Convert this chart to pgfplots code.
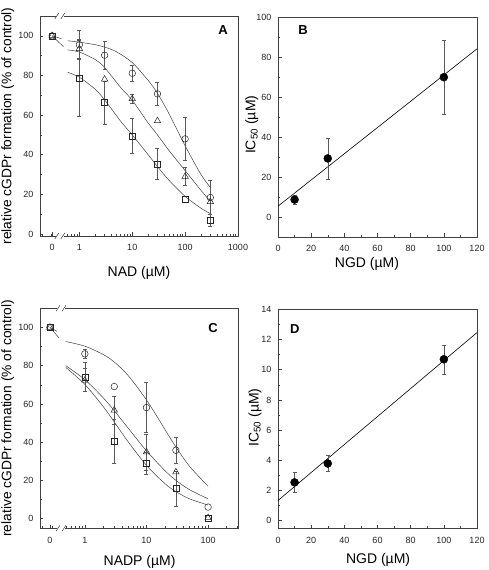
\documentclass[border=0pt]{standalone}
\usepackage{fontspec}
\setmainfont{Liberation Sans}
\usepackage{pgfplots}
\pgfplotsset{compat=1.18}

\tikzset{brk/.style={black!75, line width=0.5pt}}
\pgfplotsset{
 panel/.style={
  scale only axis,
  axis line style={black!75, line width=0.6pt},
  tick style={black!75, line width=0.5pt},
  tick pos=left,
  tick align=inside,
  major tick length=3.5pt,
  minor tick length=2pt,
  /pgf/number format/assume math mode=true,
  tick label style={font=\fontsize{9}{10}\selectfont, text=black!85},
  label style={font=\fontsize{14}{16}\selectfont},
  xticklabel style={yshift=-5pt},
  yticklabel style={xshift=-3pt},
  clip=false,
 },
 curve/.style={black!75, line width=0.5pt, smooth, mark=none},
 ebar/.style={draw=none, mark=none,
   error bars/.cd, y dir=both, y explicit,
   error bar style={draw=black!65, line width=0.5pt, solid},
   error mark options={rotate=90, mark size=2pt, line width=0.5pt, draw=black!65}},
 omarks/.style={only marks, black!85, mark options={line width=0.5pt}},
}

\begin{document}
\begin{tikzpicture}[x=1pt,y=1pt]
\useasboundingbox (0,0) rectangle (488,570);

%================ Panel A =================
\begin{axis}[panel,
  at={(40pt,334pt)}, anchor=south west, width=198pt, height=220pt,
  xmode=log, xmin=0.18, xmax=1000, ymin=-1, ymax=110,
  xtick={0.306,1,10,100,1000}, xticklabels={0,1,10,100,1000},
  minor xtick={0.2,0.3,0.4,0.5,0.6,0.7,0.8,0.9,2,3,4,5,6,7,8,9,20,30,40,50,60,70,80,90,200,300,400,500,600,700,800,900},
  ytick={0,20,40,60,80,100}, minor ytick={10,30,50,70,90},
  xlabel={NAD (µM)}, ylabel={relative cGDPr formation (\% of control)},
  xlabel style={at={(axis description cs:0.5,-0.168)}, anchor=center},
  ylabel style={at={(axis description cs:-0.162,0.5)}, anchor=center, font=\fontsize{13.8}{15}\selectfont},
]
% fitted curves
\addplot[curve] coordinates {(0.6,97.5)(1,96.8)(2,95.5)(3,94.3)(5,92)(10,86.5)(20,77.5)(30,71)(50,60.5)(100,44.5)(200,30)(300,23.5)};
\addplot[curve] coordinates {(0.6,92.9)(1,91.8)(2,88)(3,84)(6,74)(10,67.5)(20,56)(30,50)(50,42)(100,32)(200,22)(300,16.5)};
\addplot[curve] coordinates {(0.6,81.6)(1,79.1)(2,73)(3,67.7)(6,57)(10,50)(20,40)(30,34)(50,27)(100,19)(200,13)(300,10.3)};
\addplot[black!75, line width=0.5pt] coordinates {(0.306,100)(0.5,94.5)};
\addplot[black!75, line width=0.5pt] coordinates {(0.306,100)(0.46,98.5)};
% error bars
\addplot[ebar] table[x=x,y=y,y error=e] {
x y e
1 95.5 7.2
3 90.2 7
10 81.1 4.2
30 70.7 5.7
100 48 11
300 18.4 8.6
};
\addplot[ebar] table[x=x,y=y,y error=e] {
x y e
1 93.5 5
10 68.2 2.2
100 29 4.5
};
\addplot[ebar] table[x=x,y=y,y error=e] {
x y e
1 78.6 19
3 66.3 11
10 49.5 9
30 35.4 8
300 7.1 3
};
% markers
\addplot[omarks, mark=o, mark size=3.3pt] coordinates {(0.306,100)(1,95.5)(3,90.2)(10,81.1)(30,70.7)(100,48)(300,18.4)};
\addplot[omarks, mark=triangle, mark size=3.7pt] coordinates {(0.306,100)(1,93.5)(3,78.1)(10,68.2)(30,57.1)(100,29)(300,16.3)};
\addplot[omarks, mark=square, mark size=3pt] coordinates {(0.306,100)(1,78.6)(3,66.3)(10,49.5)(30,35.4)(100,17.7)(300,7.1)};
% axis breaks
\fill[white] ([xshift=-4pt,yshift=-2pt]rel axis cs:0.1,0) rectangle ([xshift=4pt,yshift=2pt]rel axis cs:0.1,0);
\fill[white] ([xshift=-4pt,yshift=-2pt]rel axis cs:0.1,1) rectangle ([xshift=4pt,yshift=2pt]rel axis cs:0.1,1);
\draw[brk] ([xshift=-5pt,yshift=-3pt]rel axis cs:0.1,0) -- ([xshift=-1pt,yshift=3pt]rel axis cs:0.1,0);
\draw[brk] ([xshift=1pt,yshift=-3pt]rel axis cs:0.1,0) -- ([xshift=5pt,yshift=3pt]rel axis cs:0.1,0);
\draw[brk] ([xshift=-5pt,yshift=-3pt]rel axis cs:0.1,1) -- ([xshift=-1pt,yshift=3pt]rel axis cs:0.1,1);
\draw[brk] ([xshift=1pt,yshift=-3pt]rel axis cs:0.1,1) -- ([xshift=5pt,yshift=3pt]rel axis cs:0.1,1);
\node[font=\bfseries\fontsize{13}{15}\selectfont] at (rel axis cs:0.924,0.936) {A};
\end{axis}

%================ Panel B =================
\begin{axis}[panel,
  at={(278pt,333pt)}, anchor=south west, width=199pt, height=220pt,
  xmin=0, xmax=120, ymin=-10, ymax=100,
  xtick={0,20,...,120}, minor x tick num=1,
  ytick={0,20,...,100}, minor y tick num=1,
  xlabel={NGD (µM)}, ylabel={IC\textsubscript{50} (µM)},
  xlabel style={at={(axis description cs:0.447,-0.12)}, anchor=center},
  ylabel style={at={(axis description cs:-0.132,0.51)}, anchor=center},
]
\addplot[black, line width=0.6pt] coordinates {(0,5.4)(120,84.1)};
\addplot[ebar] table[x=x,y=y,y error=e] {
x y e
10 8.7 2.2
30 29.3 10.3
100 69.9 18.4
};
\addplot[only marks, mark=*, mark size=4pt, black] coordinates {(10,8.7)(30,29.3)(100,69.9)};
\node[font=\bfseries\fontsize{13}{15}\selectfont] at (rel axis cs:0.126,0.94) {B};
\end{axis}

%================ Panel C =================
\begin{axis}[panel,
  at={(40pt,41.7pt)}, anchor=south west, width=198pt, height=220pt,
  xmode=log, xmin=0.187, xmax=306, ymin=-5, ymax=110,
  xtick={0.271,1,10,100}, xticklabels={0,1,10,100},
  minor xtick={0.2,0.3,0.4,0.5,0.6,0.7,0.8,0.9,2,3,4,5,6,7,8,9,20,30,40,50,60,70,80,90,200,300},
  ytick={0,20,40,60,80,100}, minor ytick={10,30,50,70,90},
  xlabel={NADP (µM)}, ylabel={relative cGDPr formation (\% of control)},
  xlabel style={at={(axis description cs:0.503,-0.152)}, anchor=center},
  ylabel style={at={(axis description cs:-0.162,0.5)}, anchor=center, font=\fontsize{13.8}{15}\selectfont},
]
\addplot[curve] coordinates {(0.49,92.6)(1,90.2)(2,85.8)(3,81.9)(5,75.0)(10,62.1)(20,46.6)(30,37.5)(50,27.4)(100,17.0)};
\addplot[curve] coordinates {(0.49,80.0)(1,72.7)(2,63.1)(3,56.5)(5,47.5)(10,35.5)(20,25.1)(30,20.1)(50,15.2)(100,10.4)};
\addplot[curve] coordinates {(0.49,79.1)(1,70.2)(2,58.5)(3,50.6)(5,40.4)(10,27.9)(20,18.3)(30,14.2)(50,10.4)(100,7.15)};
\addplot[black!75, line width=0.5pt] coordinates {(0.271,100)(0.38,94.6)};
\addplot[black!75, line width=0.5pt] coordinates {(0.271,100)(0.35,98)};
\addplot[ebar] table[x=x,y=y,y error=e] {
x y e
1 86.2 2.3
10 58.1 13
30 35.8 6.6
};
\addplot[ebar] table[x=x,y=y,y error=e] {
x y e
1 72.4 6
3 56.7 7.5
10 34.9 9.3
};
\addplot[ebar] table[x=x,y=y,y error=e] {
x y e
1 74.2 7.5
3 40.5 11.7
10 29 6
30 15.7 9
};
\addplot[omarks, mark=o, mark size=3.3pt] coordinates {(0.271,100)(1,86.2)(3,69.1)(10,58.1)(30,35.8)(100,6.1)};
\addplot[omarks, mark=triangle, mark size=3.7pt] coordinates {(0.271,100)(1,72.4)(3,56.7)(10,34.9)(30,24.4)(100,0.5)};
\addplot[omarks, mark=square, mark size=3pt] coordinates {(0.271,100)(1,74.2)(3,40.5)(10,29)(30,15.7)(100,0)};
\fill[white] ([xshift=-4pt,yshift=-2pt]rel axis cs:0.106,0) rectangle ([xshift=4pt,yshift=2pt]rel axis cs:0.106,0);
\fill[white] ([xshift=-4pt,yshift=-2pt]rel axis cs:0.106,1) rectangle ([xshift=4pt,yshift=2pt]rel axis cs:0.106,1);
\draw[brk] ([xshift=-5pt,yshift=-3pt]rel axis cs:0.106,0) -- ([xshift=-1pt,yshift=3pt]rel axis cs:0.106,0);
\draw[brk] ([xshift=1pt,yshift=-3pt]rel axis cs:0.106,0) -- ([xshift=5pt,yshift=3pt]rel axis cs:0.106,0);
\draw[brk] ([xshift=-5pt,yshift=-3pt]rel axis cs:0.106,1) -- ([xshift=-1pt,yshift=3pt]rel axis cs:0.106,1);
\draw[brk] ([xshift=1pt,yshift=-3pt]rel axis cs:0.106,1) -- ([xshift=5pt,yshift=3pt]rel axis cs:0.106,1);
\node[font=\bfseries\fontsize{13}{15}\selectfont] at (rel axis cs:0.874,0.909) {C};
\end{axis}

%================ Panel D =================
\begin{axis}[panel,
  at={(278pt,41.7pt)}, anchor=south west, width=199pt, height=219pt,
  xmin=0, xmax=120, ymin=-0.5, ymax=14,
  xtick={0,20,...,120}, minor x tick num=1,
  ytick={0,2,...,14}, minor y tick num=1,
  xlabel={NGD (µM)}, ylabel={IC\textsubscript{50} (µM)},
  xlabel style={at={(axis description cs:0.503,-0.142)}, anchor=center},
  ylabel style={at={(axis description cs:-0.116,0.505)}, anchor=center},
]
\addplot[black, line width=0.6pt] coordinates {(0,1.34)(120,12.46)};
\addplot[ebar] table[x=x,y=y,y error=e] {
x y e
10 2.54 0.68
30 3.79 0.53
100 10.69 0.96
};
\addplot[only marks, mark=*, mark size=4pt, black] coordinates {(10,2.54)(30,3.79)(100,10.69)};
\node[font=\bfseries\fontsize{13}{15}\selectfont] at (rel axis cs:0.085,0.909) {D};
\end{axis}
\end{tikzpicture}
\end{document}
